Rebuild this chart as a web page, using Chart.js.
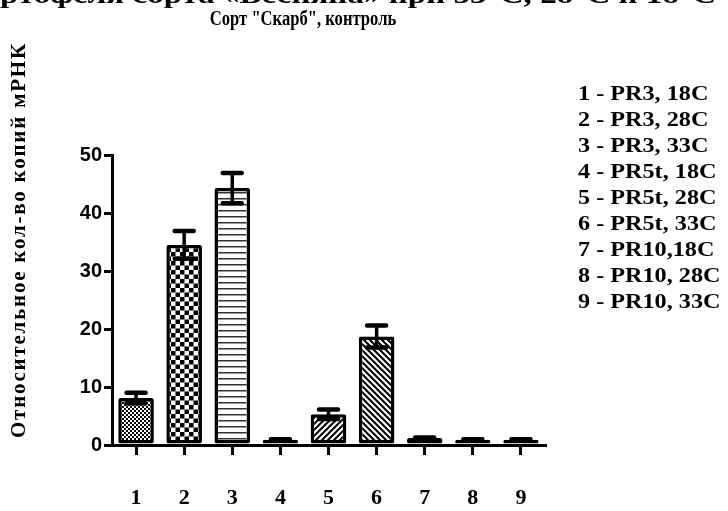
<!DOCTYPE html>
<html>
<head>
<meta charset="utf-8">
<script src="https://cdn.jsdelivr.net/npm/chart.js@4.4.1/dist/chart.umd.min.js"></script>
<style>
  html, body { margin: 0; padding: 0; background: #fff; }
  #wrap { width: 728px; height: 511px; }
</style>
</head>
<body>
<div id="wrap"><canvas id="bar-chart"></canvas></div>
<script>
// data
const categories = ["1", "2", "3", "4", "5", "6", "7", "8", "9"];
const values = [8.1, 34.5, 44.3, 0.9, 5.3, 18.7, 1.2, 0.9, 0.9];
const errors = [0.9, 2.4, 2.6, 0.1, 0.8, 1.9, 0.1, 0.1, 0.1];
const yTicks = [0, 10, 20, 30, 40, 50];
const legendLines = [
  "1 - PR3, 18C", "2 - PR3, 28C", "3 - PR3, 33C",
  "4 - PR5t, 18C", "5 - PR5t, 28C", "6 - PR5t, 33C",
  "7 - PR10,18C", "8 - PR10, 28C", "9 - PR10, 33C"
];
const patternKinds = ["fine", "checker", "hlines", "hlines", "slash", "backslash", "vlines", "hlines", "hlines"];
const chartTitle = 'Сорт "Скарб", контроль';
const topLine = 'ртофеля сорта «Весняна» при 33°С, 28°С и 18°С';
const yTitle = 'Относительное кол-во копий мРНК';

//fill patterns for the bars
function makePattern(kind) {
  const c = document.createElement('canvas');
  const g = c.getContext('2d');
  let s = 6;
  if (kind === 'fine') s = 4;
  if (kind === 'checker') s = 9;
  c.width = s; c.height = s;
  g.fillStyle = '#fff';
  g.fillRect(0, 0, s, s);
  g.fillStyle = '#000';
  g.strokeStyle = '#000';
  if (kind === 'fine') {
    g.fillRect(0, 0, 2, 2); g.fillRect(2, 2, 2, 2);
  } else if (kind === 'checker') {
    g.fillRect(0, 0, 4.5, 4.5); g.fillRect(4.5, 4.5, 4.5, 4.5);
  } else if (kind === 'hlines') {
    g.fillStyle = '#333';
    g.fillRect(0, 0, s, 1.5);
  } else if (kind === 'vlines') {
    g.fillRect(0, 0, 1.5, s);
  } else {
    g.lineWidth = 2;
    g.beginPath();
    if (kind === 'slash') {
      g.moveTo(-1, s + 1); g.lineTo(s + 1, -1);
      g.moveTo(-1, 1); g.lineTo(1, -1);
      g.moveTo(s - 1, s + 1); g.lineTo(s + 1, s - 1);
    } else {
      g.moveTo(-1, -1); g.lineTo(s + 1, s + 1);
      g.moveTo(s - 1, -1); g.lineTo(s + 1, 1);
      g.moveTo(-1, s - 1); g.lineTo(1, s + 1);
    }
    g.stroke();
  }
  return g.createPattern(c, 'repeat');
}

const errorBars = {
  id: 'errorBars',
  afterDatasetsDraw(chart) {
    const ctx = chart.ctx;
    const y = chart.scales.y;
    const meta = chart.getDatasetMeta(0);
    ctx.save();
    ctx.strokeStyle = '#000';
    ctx.lineCap = 'round';
    meta.data.forEach(function (bar, i) {
      const top = y.getPixelForValue(values[i] + errors[i]);
      const bot = y.getPixelForValue(values[i] - errors[i]);
      ctx.lineWidth = 3.5;
      ctx.beginPath();
      ctx.moveTo(bar.x, top); ctx.lineTo(bar.x, bot);
      ctx.stroke();
      ctx.lineWidth = 4.5;
      ctx.beginPath();
      ctx.moveTo(bar.x - 9.5, top); ctx.lineTo(bar.x + 9.5, top);
      ctx.moveTo(bar.x - 9.5, bot); ctx.lineTo(bar.x + 9.5, bot);
      ctx.stroke();
    });
    ctx.restore();
  }
};

const texts = {
  id: 'texts',
  afterDraw(chart) {
    const ctx = chart.ctx;
    ctx.save();
    ctx.fillStyle = '#000';
    ctx.textBaseline = 'alphabetic';
    // top line, cut by the picture edge
    ctx.font = 'bold 26px "Liberation Serif"';
    ctx.textAlign = 'left';
    ctx.save();
    const tw = ctx.measureText(topLine).width;
    ctx.translate(0, 3);
    ctx.scale(716 / tw, 1);
    ctx.fillText(topLine, 0, 0);
    ctx.restore();
    // title
    ctx.font = 'bold 20px "Liberation Serif"';
    ctx.textAlign = 'center';
    ctx.save();
    ctx.translate(303, 25);
    ctx.scale(0.83, 1);
    ctx.fillText(chartTitle, 0, 0);
    ctx.restore();
    // y title
    ctx.save();
    ctx.font = 'bold 21px "Liberation Serif"';
    ctx.translate(25, 240);
    ctx.rotate(-Math.PI / 2);
    const w = ctx.measureText(yTitle).width;
    ctx.letterSpacing = Math.max(0, (396 - w) / yTitle.length) + 'px';
    ctx.textAlign = 'center';
    ctx.fillText(yTitle, 0, 0);
    ctx.restore();
    // legend text
    ctx.font = 'bold 22px "Liberation Serif"';
    ctx.textAlign = 'left';
    legendLines.forEach(function (t, i) {
      ctx.save();
      ctx.translate(578, 100 + i * 26);
      ctx.scale(1.1, 1);
      ctx.fillText(t, 0, 0);
      ctx.restore();
    });
    ctx.restore();
  }
};

new Chart(document.getElementById("bar-chart"), {
  type: 'bar',
  data: {
    labels: categories,
    datasets: [{
      data: values,
      backgroundColor: patternKinds.map(makePattern),
      borderColor: '#000',
      borderWidth: 3.5,
      borderRadius: 2,
      borderSkipped: false,
      categoryPercentage: 1,
      barPercentage: 0.74
    }]
  },
  options: {
    responsive: true,
    maintainAspectRatio: false,
    animation: false,
    layout: { padding: { top: 155, right: 183, left: 0, bottom: 0 } },
    plugins: {
      legend: { display: false },
      title: { display: false },
      tooltip: { enabled: false }
    },
    scales: {
      x: {
        grid: { drawOnChartArea: false, offset: false, tickLength: 10, color: '#000', lineWidth: 3 },
        border: { color: '#000', width: 3 },
        ticks: { color: '#000', padding: 30, font: { family: 'Liberation Serif', weight: 'bold', size: 22 } },
        afterFit: function (scale) { scale.height = 66; }
      },
      y: {
        min: 0,
        max: 50,
        afterBuildTicks: function (scale) { scale.ticks = yTicks.map(v => ({ value: v })); },
        grid: { drawOnChartArea: false, tickLength: 8, color: '#000', lineWidth: 3 },
        border: { color: '#000', width: 3 },
        ticks: { color: '#000', padding: 2, font: { family: 'Liberation Sans', weight: 'bold', size: 20 } },
        afterFit: function (scale) { scale.width = 112; }
      }
    }
  },
  plugins: [errorBars, texts]
});
</script>
</body>
</html>
